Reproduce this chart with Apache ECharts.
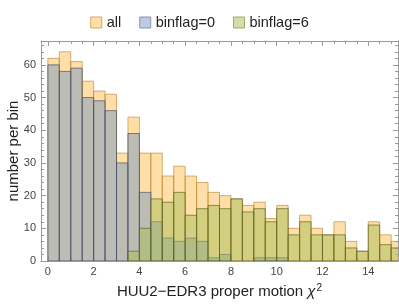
<!DOCTYPE html>
<html>
<head>
<meta charset="utf-8">
<script src="https://cdn.jsdelivr.net/npm/echarts@6/dist/echarts.min.js"></script>
<style>
  html, body { margin: 0; padding: 0; background: #fff; }
  #chart { width: 399px; height: 307px; }
</style>
</head>
<body>
<div id="chart"></div>
<script>
// histogram bins (left edges), width 0.5
const binStarts = [0, 0.5, 1, 1.5, 2, 2.5, 3, 3.5, 4, 4.5, 5, 5.5, 6, 6.5, 7, 7.5,
  8, 8.5, 9, 9.5, 10, 10.5, 11, 11.5, 12, 12.5, 13, 13.5, 14, 14.5, 15];
const binWidth = 0.5;

const seriesNames = ['all', 'binflag=0', 'binflag=6'];
const allCounts = [62, 64, 61, 55, 52, 51, 33, 44, 33, 33, 26, 29, 26, 24, 21, 20,
  19, 17, 18, 13, 17, 10, 14, 10, 8, 12, 6, 3, 12, 8, 6];
const binflag0Counts = [60, 58, 59, 50, 49, 46, 30, 39, 21, 12, 7, 6, 7, 6, 1, 2,
  0, 0, 1, 1, 1, 0, 0, 0, 0, 0, 0, 0, 0, 0, 0];
const binflag6Counts = [0, 0, 0, 0, 0, 0, 0, 3, 10, 19, 18, 21, 14, 16, 17, 16,
  19, 15, 16, 12, 16, 8, 12, 8, 8, 8, 4, 3, 11, 5, 4];

const xMajorTicks = [0, 2, 4, 6, 8, 10, 12, 14];
const xMinorTicks = [0, 0.5, 1, 1.5, 2, 2.5, 3, 3.5, 4, 4.5, 5, 5.5, 6, 6.5, 7, 7.5,
  8, 8.5, 9, 9.5, 10, 10.5, 11, 11.5, 12, 12.5, 13, 13.5, 14, 14.5, 15];
const yMajorTicks = [0, 10, 20, 30, 40, 50, 60];
const yMinorTicks = [2, 4, 6, 8, 12, 14, 16, 18, 22, 24, 26, 28, 32, 34, 36, 38,
  42, 44, 46, 48, 52, 54, 56, 58, 62, 64, 66];

const X_MIN = -0.3;
const X_MAX = 15.3;
const Y_MAX = 67.3;

const fills = ['rgba(255,191,81,0.5)', 'rgba(121,151,193,0.5)', 'rgba(168,189,90,0.5)'];
const edges = ['rgba(185,125,40,0.6)', 'rgba(60,75,100,0.65)', 'rgba(85,95,30,0.65)'];
const legendEdges = ['#d6a65e', '#8296b6', '#9aab62'];
const frameColor = '#9a9a9a';
const FONT = 'Liberation Sans, Arial, sans-serif';

function toBins(counts) {
  return binStarts.map((x0, i) => [x0, x0 + binWidth, counts[i]]);
}

function histItem(params, api) {
  const n = api.value(2);
  if (!n) return null;
  const p0 = api.coord([api.value(0), 0]);
  const p1 = api.coord([api.value(1), n]);
  return {
    type: 'rect',
    shape: { x: p0[0], y: p1[1], width: p1[0] - p0[0], height: p0[1] - p1[1] },
    style: { fill: fills[params.seriesIndex], stroke: edges[params.seriesIndex], lineWidth: 1 },
  };
}

function xAxisDef(position, ticks, len, withLine, withLabel) {
  return {
    type: 'value', min: X_MIN, max: X_MAX, position,
    axisLine: { show: withLine, onZero: false, lineStyle: { color: frameColor, width: 1 } },
    axisTick: { show: true, inside: true, length: len, customValues: ticks,
      lineStyle: { color: frameColor } },
    axisLabel: withLabel
      ? { show: true, customValues: xMajorTicks, margin: 5, color: '#444', fontSize: 11, fontFamily: FONT }
      : { show: false },
    splitLine: { show: false },
  };
}

function yAxisDef(position, ticks, len, withLine, withLabel) {
  return {
    type: 'value', min: 0, max: Y_MAX, position,
    axisLine: { show: withLine, onZero: false, lineStyle: { color: frameColor, width: 1 } },
    axisTick: { show: true, inside: true, length: len, customValues: ticks,
      lineStyle: { color: frameColor } },
    axisLabel: withLabel
      ? { show: true, customValues: yMajorTicks, margin: 5, color: '#444', fontSize: 11, fontFamily: FONT }
      : { show: false },
    splitLine: { show: false },
  };
}

const chart = echarts.init(document.getElementById('chart'));

const xAxes = [
  xAxisDef('bottom', xMajorTicks, 5, true, true),
  xAxisDef('bottom', xMinorTicks, 3, false, false),
  xAxisDef('top', xMajorTicks, 5, true, false),
  xAxisDef('top', xMinorTicks, 3, false, false),
];
xAxes[0].name = 'HUU2\u2212EDR3 proper motion {chi|\u03c7}{sup|2}';
xAxes[0].nameLocation = 'middle';
xAxes[0].nameGap = 22;
xAxes[0].nameMoveOverlap = false;
xAxes[0].nameTextStyle = {
  color: '#222', fontSize: 15, fontFamily: FONT,
  rich: {
    chi: { fontSize: 15, fontStyle: 'italic', fontFamily: FONT, color: '#222' },
    sup: { fontSize: 10, verticalAlign: 'top', padding: [0, 0, 8, 1], fontFamily: FONT, color: '#222' },
  },
};

const yAxes = [
  yAxisDef('left', yMajorTicks, 5, true, true),
  yAxisDef('left', yMinorTicks, 3, false, false),
  yAxisDef('right', yMajorTicks, 5, true, false),
  yAxisDef('right', yMinorTicks, 3, false, false),
];
yAxes[0].name = 'number per bin';
yAxes[0].nameLocation = 'middle';
yAxes[0].nameGap = 20;
yAxes[0].nameMoveOverlap = false;
yAxes[0].nameTextStyle = { color: '#222', fontSize: 15, fontFamily: FONT };

const option = {
  animation: false,
  legend: {
    top: 10,
    left: 'center',
    itemWidth: 11,
    itemHeight: 11,
    itemGap: 18,
    icon: 'rect',
    textStyle: { fontSize: 14.5, color: '#222', fontFamily: FONT },
    data: seriesNames.map((name, i) => ({
      name,
      itemStyle: { color: fills[i], borderColor: legendEdges[i], borderWidth: 1 },
    })),
  },
  grid: { left: 41, right: 1, top: 41, bottom: 46, containLabel: false, outerBoundsMode: 'none' },
  xAxis: xAxes,
  yAxis: yAxes,
  series: [allCounts, binflag0Counts, binflag6Counts].map((counts, i) => ({
    name: seriesNames[i],
    type: 'custom',
    renderItem: histItem,
    clip: true,
    xAxisIndex: 0,
    yAxisIndex: 0,
    encode: { x: [0, 1], y: 2 },
    itemStyle: { color: fills[i], borderColor: edges[i], borderWidth: 1 },
    data: toBins(counts),
  })),
};

chart.setOption(option);
</script>
</body>
</html>
